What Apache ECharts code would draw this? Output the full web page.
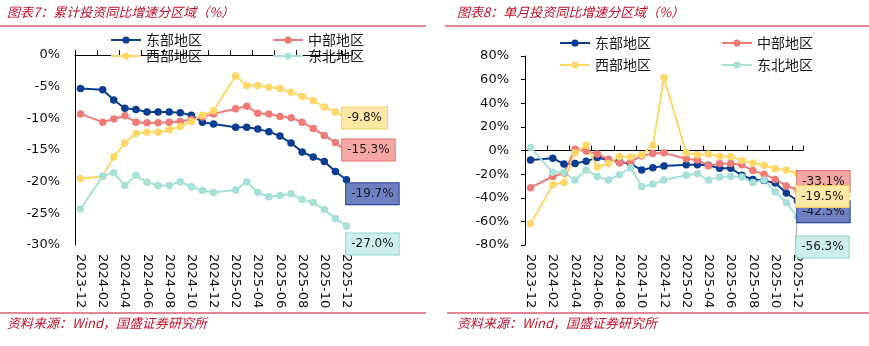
<!DOCTYPE html>
<html>
<head>
<meta charset="utf-8">
<script src="https://cdn.jsdelivr.net/npm/echarts@6/dist/echarts.min.js"></script>
<style>
  html, body { margin: 0; padding: 0; background: #fff; }
  #chart { width: 869px; height: 346px; }
</style>
</head>
<body>
<div id="chart"></div>
<script>
// Month categories (January has no separate release, so those slots stay empty)
const months = [
  '2023-12', '2024-01', '2024-02', '2024-03', '2024-04', '2024-05', '2024-06',
  '2024-07', '2024-08', '2024-09', '2024-10', '2024-11', '2024-12', '2025-01',
  '2025-02', '2025-03', '2025-04', '2025-05', '2025-06', '2025-07', '2025-08',
  '2025-09', '2025-10', '2025-11', '2025-12'
];

// Cumulative YoY growth by region (%)
const eastYtd = [-5.3, null, -5.5, -7.1, -8.4, -8.6, -9.0, -9.0, -9.0, -9.1, -9.5, -10.6, -10.9,
  null, -11.4, -11.4, -11.7, -12.1, -12.8, -13.9, -15.3, -16.1, -16.8, -18.4, -19.7];
const centralYtd = [-9.3, null, -10.6, -10.1, -9.6, -10.6, -10.7, -10.7, -10.6, -10.5, -10.2, -9.8, -9.3,
  null, -8.5, -8.1, -9.2, -9.3, -9.7, -9.9, -10.6, -11.6, -12.7, -13.8, -15.3];
const westYtd = [-19.5, null, -19.2, -16.1, -13.9, -12.4, -12.2, -12.2, -11.8, -11.3, -10.5, -9.5, -8.8,
  null, -3.3, -4.8, -4.8, -5.1, -5.3, -5.9, -6.5, -7.2, -8.2, -9.0, -9.8];
const northeastYtd = [-24.3, null, -19.1, -18.6, -20.6, -19.0, -20.1, -20.6, -20.6, -20.0, -20.8, -21.4, -21.7,
  null, -21.3, -20.0, -21.7, -22.4, -22.2, -21.9, -22.8, -23.3, -24.4, -25.8, -27.0];

// Single-month YoY growth by region (%)
const eastMonthly = [-8.0, null, -6.5, -11.5, -11.0, -9.0, -6.0, -8.0, -9.5, -11.5, -16.5, -14.5, -13.2,
  null, -12.0, -12.0, -12.5, -15.0, -15.0, -21.0, -24.5, -25.5, -27.5, -36.0, -42.5];
const centralMonthly = [-31.5, null, -22.0, -19.0, 1.0, -0.5, -3.0, -7.5, -10.5, -9.5, -4.5, -2.5, -2.0,
  null, -7.0, -8.0, -13.0, -11.0, -11.0, -12.0, -17.0, -20.0, -24.5, -30.0, -33.1];
const westMonthly = [-62.0, null, -29.0, -27.0, -2.0, 4.5, -14.0, -11.0, -5.0, -5.5, -3.5, 4.5, 61.5,
  null, -2.0, -3.5, -3.0, -5.0, -5.0, -8.5, -10.5, -12.5, -15.5, -16.5, -19.5];
const northeastMonthly = [2.5, null, -18.5, -18.5, -25.0, -16.5, -22.0, -25.0, -20.5, -14.5, -30.5, -28.5, -25.0,
  null, -21.0, -19.5, -25.0, -22.5, -22.0, -22.5, -27.0, -25.0, -35.0, -44.0, -56.3];

const regionNames = ['东部地区', '中部地区', '西部地区', '东北地区'];
const colors = ['#0b3d91', '#f07b76', '#fdd868', '#a6e0d9'];
const boxFill = ['#6e80c2', '#f4a7a4', '#fde9a6', '#cdeeea'];
const boxBorder = ['#1c3a8a', '#e2706c', '#f2cf63', '#8fd3ca'];

const RED = '#c0102a';
const NUM_FONT = 'DejaVu Sans';
const CJK_FONT = 'Noto Sans CJK SC';

function endLabel(idx, dx, dy) {
  return {
    show: true,
    position: 'right',
    distance: 0,
    offset: [dx, dy],
    formatter: p => p.value.toFixed(1) + '%',
    backgroundColor: boxFill[idx],
    borderColor: boxBorder[idx],
    borderWidth: 1,
    padding: [5, 5, 4, 5],
    color: '#1a1a1a',
    fontSize: 12,
    fontFamily: NUM_FONT
  };
}

function lineSeries(idx, values, gridIdx, label, extra) {
  const last = values.length - 1;
  return Object.assign({
    type: 'line',
    name: regionNames[idx],
    xAxisIndex: gridIdx * 2,
    yAxisIndex: gridIdx,
    data: values.map((v, i) => (i === last ? { value: v, label: label } : v)),
    connectNulls: true,
    symbol: 'circle',
    symbolSize: 7.5,
    showSymbol: true,
    showAllSymbol: true,
    lineStyle: { width: 2, color: colors[idx] },
    itemStyle: { color: colors[idx] },
    label: { show: false },
    emphasis: { disabled: true },
    animation: false
  }, extra || {});
}

function categoryAxes(gridIdx) {
  return [
    {
      gridIndex: gridIdx,
      type: 'category',
      data: months,
      position: 'bottom',
      boundaryGap: true,
      axisLine: { show: false, onZero: false },
      axisTick: { show: false },
      axisLabel: {
        rotate: -90, interval: 1, margin: 9,
        fontSize: 13, fontFamily: NUM_FONT, color: '#111'
      }
    },
    {
      gridIndex: gridIdx,
      type: 'category',
      data: months,
      position: 'bottom',
      boundaryGap: true,
      axisLine: { show: true, onZero: true, lineStyle: { color: '#000', width: 1 } },
      axisTick: { show: true, inside: true, length: 5, interval: 1, lineStyle: { color: '#000' } },
      axisLabel: { show: false }
    }
  ];
}

function legendRows(left, top1, top2) {
  const base = {
    left: left,
    orient: 'horizontal',
    itemWidth: 30,
    itemHeight: 9,
    itemGap: 70,
    selectedMode: false,
    textStyle: { fontSize: 14, fontFamily: CJK_FONT, color: '#1a1a1a', padding: [0, 0, 0, 0] }
  };
  return [
    Object.assign({}, base, { top: top1, data: [regionNames[0], regionNames[1]] }),
    Object.assign({}, base, { top: top2, data: [regionNames[2], regionNames[3]] })
  ];
}

const chart = echarts.init(document.getElementById('chart'), null, { renderer: 'canvas' });

chart.setOption({
  animation: false,
  backgroundColor: '#fff',
  grid: [
    { left: 75, top: 55, width: 277, height: 190, containLabel: false },
    { left: 525, top: 56, width: 278, height: 189, containLabel: false }
  ],
  xAxis: categoryAxes(0).concat(categoryAxes(1)),
  yAxis: [
    {
      gridIndex: 0, type: 'value', min: -30, max: 0, interval: 5,
      axisLine: { show: true, lineStyle: { color: '#000', width: 1 } },
      axisTick: { show: false },
      splitLine: { show: false },
      axisLabel: { formatter: '{value}%', margin: 15, fontSize: 13, fontFamily: NUM_FONT, color: '#111' }
    },
    {
      gridIndex: 1, type: 'value', min: -80, max: 80, interval: 20,
      axisLine: { show: true, lineStyle: { color: '#000', width: 1 } },
      axisTick: { show: true, length: 4, lineStyle: { color: '#000' } },
      splitLine: { show: false },
      axisLabel: { formatter: '{value}%', margin: 16, fontSize: 13, fontFamily: NUM_FONT, color: '#111' }
    }
  ],
  legend: legendRows(105, 28, 44).concat(legendRows(554, 31, 53)),
  series: [
    lineSeries(0, eastYtd, 0, endLabel(0, -4, 14)),
    lineSeries(1, centralYtd, 0, endLabel(1, -8, -2)),
    lineSeries(2, westYtd, 0, endLabel(2, -8, 1)),
    lineSeries(3, northeastYtd, 0, endLabel(3, -4, 18)),

    lineSeries(0, eastMonthly, 1, endLabel(0, -4, 11)),
    lineSeries(1, centralMonthly, 1, endLabel(1, -4, -8)),
    lineSeries(2, westMonthly, 1, endLabel(2, -5, 23)),
    lineSeries(3, northeastMonthly, 1, endLabel(3, 0, 0), {
      labelLayout: { dx: -5, dy: 30 },
      labelLine: { show: true, lineStyle: { color: '#a0a0a0', width: 1 } }
    })
  ],
  graphic: [
    { type: 'text', left: 7, top: 6, style: { text: '图表7：累计投资同比增速分区域（%）', fill: RED, font: 'italic 13px "' + CJK_FONT + '"' } },
    { type: 'line', shape: { x1: 0, y1: 26, x2: 426, y2: 26 }, style: { stroke: RED, lineWidth: 1 } },
    { type: 'line', shape: { x1: 0, y1: 313, x2: 426, y2: 313 }, style: { stroke: RED, lineWidth: 1 } },
    { type: 'text', left: 7, top: 317, style: { text: '资料来源：Wind，国盛证券研究所', fill: RED, font: 'italic 13px "' + CJK_FONT + '"' } },

    { type: 'text', left: 457, top: 6, style: { text: '图表8：单月投资同比增速分区域（%）', fill: RED, font: 'italic 13px "' + CJK_FONT + '"' } },
    { type: 'line', shape: { x1: 445, y1: 26, x2: 869, y2: 26 }, style: { stroke: RED, lineWidth: 1 } },
    { type: 'line', shape: { x1: 447, y1: 313, x2: 869, y2: 313 }, style: { stroke: RED, lineWidth: 1 } },
    { type: 'text', left: 457, top: 317, style: { text: '资料来源：Wind，国盛证券研究所', fill: RED, font: 'italic 13px "' + CJK_FONT + '"' } }
  ]
});
</script>
</body>
</html>
